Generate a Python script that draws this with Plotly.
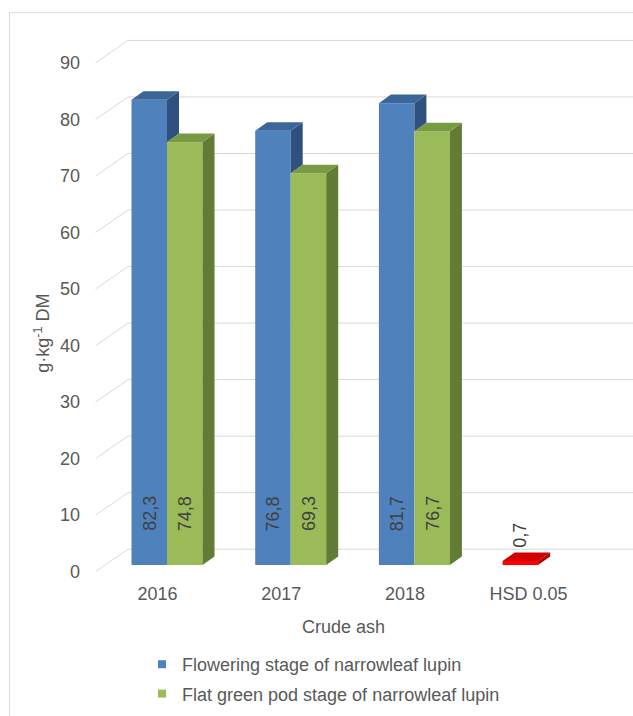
import plotly.graph_objects as go

# ---------------- data ----------------
categories = ["2016", "2017", "2018", "HSD 0.05"]
flowering = [82.3, 76.8, 81.7, 0.7]
flat_pod = [74.8, 69.3, 76.7, None]
series_names = ["Flowering stage of narrowleaf lupin",
                "Flat green pod stage of narrowleaf lupin"]
y_ticks = [0, 10, 20, 30, 40, 50, 60, 70, 80, 90]
y_title = "g·kg<sup>-1</sup> DM"
x_title = "Crude ash"

# ---------------- styling / geometry ----------------
FONT = "Liberation Sans, Arial, sans-serif"
TXT = "#595959"
LBL = "#404040"
GRID = "#D9D9D9"
front_cols = [["#4F81BD", "#4F81BD", "#4F81BD", "#FF0000"], ["#9BBB59"] * 4]
top_cols = [["#3C659A", "#3C659A", "#3C659A", "#D20000"], ["#789A42"] * 4]
side_cols = [["#30517E", "#30517E", "#30517E", "#B00000"], ["#627B35"] * 4]

FIG_W, FIG_H = 633, 716
L, R, T, B = 95, 0, 30, 141
PX_CAT = 123.7      # pixels per category
PX_UNIT = 5.653     # pixels per value unit
ORIGIN_PX = 167.0   # pixel x of category 0 centre (bar front plane)
BASE_PY = 565.0     # pixel y of value 0 on bar front plane
plot_w = FIG_W - L - R
plot_h = FIG_H - T - B
x_range = [(L - ORIGIN_PX) / PX_CAT, (FIG_W - R - ORIGIN_PX) / PX_CAT]
y_range = [(BASE_PY - (FIG_H - B)) / PX_UNIT, (BASE_PY - T) / PX_UNIT]

def du(px):
    return px / PX_CAT

def dv(py):
    return -py / PX_UNIT

BAR_W = du(35.5)
DEPTH_U, DEPTH_V = du(12.0), dv(-8.6)          # bar depth
FLOOR_U, FLOOR_V = du(-9.5), dv(6.7)           # front edge of floor vs bar front
WALL_U, WALL_V = du(23.0), dv(-15.8)           # back wall vs bar front
FLOOR_LEFT_U = du(95.5 - ORIGIN_PX)            # left end of front floor edge

fig = go.Figure()

# ---- gridlines (subplot xy, drawn beneath bars) ----
gx, gy = [], []
for t in y_ticks:
    gx += [FLOOR_LEFT_U, FLOOR_LEFT_U + (WALL_U - FLOOR_U), x_range[1] + 1, None]
    gy += [t + FLOOR_V, t + WALL_V, t + WALL_V, None]
fig.add_trace(go.Scatter(x=gx, y=gy, mode="lines", line=dict(color=GRID, width=1),
                         hoverinfo="skip", showlegend=False, xaxis="x", yaxis="y"))

# ---- bars (subplot x2y2) ----
xs = list(range(len(categories)))
all_series = [flowering, flat_pod]
offsets = [-BAR_W, 0.0]
for s, vals in enumerate(all_series):
    fig.add_trace(go.Bar(x=xs, y=vals, width=BAR_W, offset=offsets[s],
                         marker=dict(color=front_cols[s], line=dict(width=0)),
                         showlegend=False, hoverinfo="skip", xaxis="x2", yaxis="y2"))

# ---- 3D side & top faces ----
for s, vals in enumerate(all_series):
    for i, v in enumerate(vals):
        if v is None:
            continue
        x0 = i + offsets[s]
        x1 = x0 + BAR_W
        bottom = 0.0
        if s + 1 < len(all_series):
            nv = all_series[s + 1][i]
            if nv is not None:
                bottom = min(nv, v)
        side_x = [x1, x1 + DEPTH_U, x1 + DEPTH_U, x1, x1]
        side_y = [bottom, bottom + DEPTH_V, v + DEPTH_V, v, bottom]
        fig.add_trace(go.Scatter(x=side_x, y=side_y, mode="lines", fill="toself",
                                 fillcolor=side_cols[s][i], line=dict(width=0, color=side_cols[s][i]),
                                 hoverinfo="skip", showlegend=False, xaxis="x2", yaxis="y2"))
        top_x = [x0, x1, x1 + DEPTH_U, x0 + DEPTH_U, x0]
        top_y = [v, v, v + DEPTH_V, v + DEPTH_V, v]
        fig.add_trace(go.Scatter(x=top_x, y=top_y, mode="lines", fill="toself",
                                 fillcolor=top_cols[s][i], line=dict(width=0, color=top_cols[s][i]),
                                 hoverinfo="skip", showlegend=False, xaxis="x2", yaxis="y2"))

# ---- legend entries ----
for s, name in enumerate(series_names):
    fig.add_trace(go.Scatter(x=[None], y=[None], mode="markers", name=name,
                             legendgroup=f"g{s}",
                             marker=dict(symbol="square", size=8, color=front_cols[s][0]),
                             xaxis="x2", yaxis="y2"))

# ---- data labels ----
annotations = []
LABEL_BASE_V = (BASE_PY - 533) / PX_UNIT
for s, vals in enumerate(all_series):
    for i, v in enumerate(vals):
        if v is None:
            continue
        cx = i + offsets[s] + BAR_W / 2
        txt = f"{v:.1f}".replace(".", ",")
        if v > 10:
            ypos = LABEL_BASE_V
        else:
            ypos = v + DEPTH_V + dv(-2.5)
        annotations.append(dict(x=cx, y=ypos, xref="x2", yref="y2", text=txt,
                                textangle=-90, showarrow=False, xanchor="center",
                                yanchor="bottom", font=dict(family=FONT, size=18, color=LBL)))

annotations.append(dict(x=(343 - L) / plot_w, y=(FIG_H - B - 626.5) / plot_h,
                        xref="paper", yref="paper", text=x_title, showarrow=False,
                        xanchor="center", yanchor="middle",
                        font=dict(family=FONT, size=18, color=TXT)))
annotations.append(dict(x=(41.7 - L) / plot_w, y=(FIG_H - B - 333) / plot_h,
                        xref="paper", yref="paper", text=y_title, showarrow=False,
                        textangle=-90, xanchor="center", yanchor="middle",
                        font=dict(family=FONT, size=18, color=TXT)))

fig.update_layout(
    width=FIG_W, height=FIG_H,
    margin=dict(l=L, r=R, t=T, b=B, pad=0, autoexpand=False),
    paper_bgcolor="white", plot_bgcolor="rgba(0,0,0,0)",
    barmode="overlay",
    font=dict(family=FONT, size=18, color=TXT),
    xaxis=dict(domain=[0, 1], range=x_range, anchor="y", showgrid=False, zeroline=False,
               showline=False, ticks="", tickmode="array", automargin=False,
               tickvals=[i + FLOOR_U for i in xs], ticktext=categories,
               tickfont=dict(family=FONT, size=18, color=TXT), ticklabelstandoff=6),
    yaxis=dict(domain=[0, 1], range=y_range, anchor="x", showgrid=False, zeroline=False,
               showline=False, ticks="", tickmode="array", automargin=False,
               tickvals=[t + FLOOR_V for t in y_ticks], ticktext=[str(t) for t in y_ticks],
               tickfont=dict(family=FONT, size=18, color=TXT), ticklabelstandoff=14),
    xaxis2=dict(domain=[0, 1], range=x_range, anchor="y2", visible=False),
    yaxis2=dict(domain=[0, 1], range=y_range, anchor="x2", visible=False),
    legend=dict(xref="container", yref="container", x=142 / FIG_W, y=1 - 646 / FIG_H,
                xanchor="left", yanchor="top", orientation="v", traceorder="grouped",
                tracegroupgap=3, bgcolor="rgba(0,0,0,0)",
                font=dict(family=FONT, size=18, color=TXT)),
    annotations=annotations,
    shapes=[dict(type="rect", xref="paper", yref="paper",
                 x0=(9.5 - L) / plot_w, x1=1.2,
                 y0=-0.6, y1=(FIG_H - B - 12.7) / plot_h,
                 line=dict(color=GRID, width=1), fillcolor="rgba(0,0,0,0)", layer="below")],
    showlegend=True,
)

fig.write_html("out.html")
